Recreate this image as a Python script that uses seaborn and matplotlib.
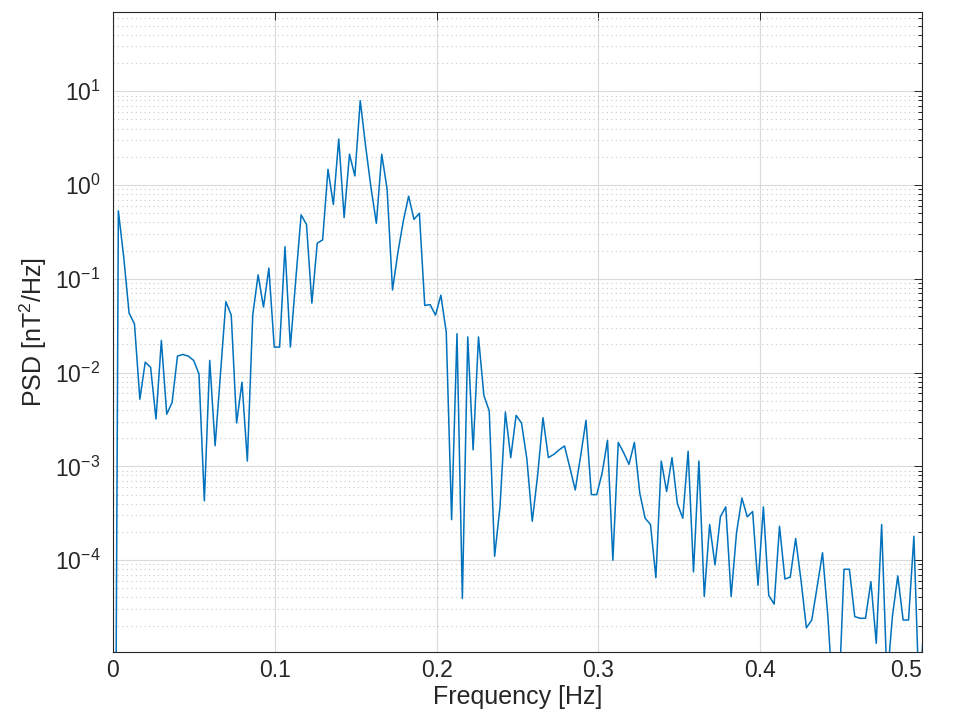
"""power spectral density plot, matlab look"""

import numpy as np
import pandas as pd
import matplotlib
matplotlib.use("Agg")
import matplotlib.pyplot as plt
from matplotlib.ticker import LogLocator, LogFormatterMathtext, NullFormatter
import seaborn as sns

# frequency resolution of the spectrum
df_hz = 1 / 301

# psd values, one per frequency bin [nT^2/Hz]
psd = [
    1e-12, 0.53, 0.17, 0.043, 0.033, 0.0052, 0.0129, 0.0114, 0.0032, 0.022,
    0.0036, 0.0048, 0.015, 0.0156, 0.015, 0.0135, 0.0097, 0.00043, 0.0135, 0.00166,
    0.0097, 0.057, 0.041, 0.0029, 0.0079, 0.00114, 0.041, 0.11, 0.050, 0.13,
    0.0187, 0.0187, 0.22, 0.0187, 0.097, 0.48, 0.38, 0.055, 0.24, 0.26,
    1.47, 0.62, 3.1, 0.45, 2.13, 1.25, 7.95, 2.6, 0.94, 0.39,
    2.13, 0.9, 0.076, 0.19, 0.41, 0.76, 0.43, 0.50, 0.052, 0.053,
    0.041, 0.067, 0.027, 0.00027, 0.026, 3.9e-5, 0.024, 0.0015, 0.024, 0.0057,
    0.0039, 0.00011, 0.00037, 0.0038, 0.00124, 0.0035, 0.0029, 0.0012, 0.00026, 0.0008,
    0.0033, 0.00124, 0.00134, 0.0015, 0.00165, 0.00097, 0.00056, 0.00129, 0.0031, 0.0005,
    0.0005, 0.00085, 0.0019, 0.0001, 0.0018, 0.0014, 0.00105, 0.0018, 0.00052, 0.00028,
    0.00024, 6.5e-5, 0.00114, 0.00054, 0.00124, 0.0004, 0.00028, 0.00145, 7.5e-5, 0.00114,
    4.1e-5, 0.00024, 8.9e-5, 0.00029, 0.00037, 4.1e-5, 0.000195, 0.00046, 0.00029, 0.00033,
    5.4e-5, 0.00037, 4.2e-5, 3.4e-5, 0.00023, 6.3e-5, 6.6e-5, 0.00017, 6.1e-5, 1.9e-5,
    2.3e-5, 5.2e-5, 0.00012, 2.5e-5, 3e-6, 3e-6, 8e-5, 8e-5, 2.5e-5, 2.4e-5,
    2.4e-5, 5.9e-5, 1.3e-5, 0.00024, 5e-6, 2.5e-5, 6.8e-5, 2.3e-5, 2.3e-5, 0.00018,
    3e-6, 3e-5,
]
freq = np.arange(len(psd)) * df_hz

x_ticks = [0, 0.1, 0.2, 0.3, 0.4, 0.5]
x_tick_labels = ["0", "0.1", "0.2", "0.3", "0.4", "0.5"]
y_ticks = [1e-4, 1e-3, 1e-2, 1e-1, 1e0, 1e1]


def psd_graph():
    """psd of the magnetic field, log scale"""
    data = pd.DataFrame({"Frequency": freq, "PSD": psd})

    sns.set_theme(style="white")
    plt.rcParams["font.family"] = ["Liberation Sans", "DejaVu Sans"]
    plt.rcParams["mathtext.fontset"] = "custom"
    plt.rcParams["mathtext.rm"] = "Liberation Sans"
    plt.rcParams["mathtext.it"] = "Liberation Sans:italic"

    fig = plt.figure(figsize=(9.55, 7.17), dpi=100)
    ax = fig.add_axes([0.1183, 0.0907, 0.8471, 0.8926])

    sns.lineplot(data=data, x="Frequency", y="PSD", ax=ax, color="#0072BD",
                 linewidth=1.1, estimator=None, sort=False)

    ax.set_yscale("log")
    ax.set_xlim(0, 0.5)
    ax.set_ylim(1.05e-5, 70)

    ax.set_xticks(x_ticks)
    ax.set_xticklabels(x_tick_labels)
    # matlab keeps the last label inside the figure edge
    ax.get_xticklabels()[-1].set_horizontalalignment("right")
    ax.set_yticks(y_ticks)
    ax.yaxis.set_minor_locator(LogLocator(base=10, subs=np.arange(2, 10), numticks=100))
    ax.yaxis.set_major_formatter(LogFormatterMathtext())
    ax.yaxis.set_minor_formatter(NullFormatter())
    ax.set_ylim(1.05e-5, 70)

    text_color = "#262626"
    ax.tick_params(which="both", direction="in", top=True, right=True,
                   colors=text_color, labelsize=16.5, width=0.7)
    ax.tick_params(which="major", length=6)
    ax.tick_params(axis="y", which="major", pad=9)
    ax.tick_params(axis="x", which="major", pad=5)
    ax.tick_params(which="minor", length=3)

    ax.grid(which="major", color="#dadada", linewidth=0.8, linestyle="-")
    ax.grid(which="minor", axis="y", color="#c8c8c8", linewidth=0.8, linestyle=(0, (1, 3)))
    ax.set_axisbelow(True)

    for side in ax.spines.values():
        side.set_color(text_color)
        side.set_linewidth(0.8)

    ax.set_xlabel("Frequency [Hz]", fontsize=18, color=text_color, labelpad=2)
    ax.set_ylabel("PSD [nT$^2$/Hz]", fontsize=18, color=text_color, labelpad=4)

    plt.savefig("out.png", dpi=100)
    plt.close()


psd_graph()
